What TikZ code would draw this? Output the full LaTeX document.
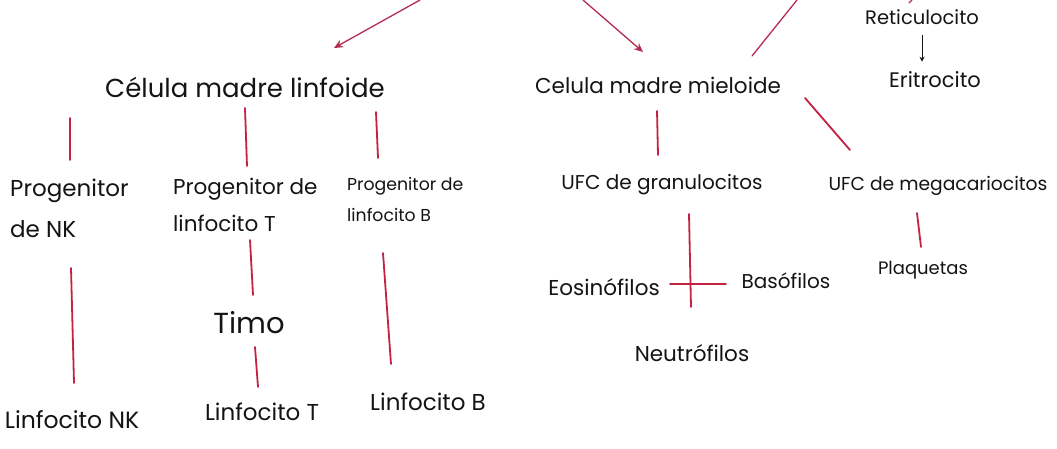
\documentclass[tikz,border=0pt]{standalone}
\usepackage{fontspec}
\setmainfont{Poppins}
\usetikzlibrary{arrows.meta}
\definecolor{ink}{RGB}{20,20,20}
\definecolor{redink}{RGB}{196,34,66}
\definecolor{arrowink}{RGB}{180,45,80}
\newcommand{\fsz}[1]{\fontsize{#1}{#1}\selectfont}
\tikzset{
  lbl/.style={text=ink, inner sep=0pt, font=\fsz{22}},
  twoline/.style={lbl, align=left, anchor=north west},
  link/.style={draw=redink, line width=1.8pt, line cap=round},
  thinlink/.style={draw=arrowink, line width=1.3pt, line cap=round},
  feed/.style={thinlink, -{Stealth[length=9pt, width=8pt]}},
  smallarrow/.style={draw=ink, line width=1pt, -{Stealth[length=5pt, width=5pt]}}
}
\begin{document}
\begin{tikzpicture}[x=1pt, y=-1pt]
  \useasboundingbox (0,0) rectangle (1057,449);
  \fill[white] (0,0) rectangle (1057,449);

  % --- stem cells ---
  \node[lbl, font=\fsz{26}] (linf) at (245,87) {Célula madre linfoide};
  \node[lbl, font=\fsz{21.5}] (miel) at (658,85) {Celula madre mieloide};

  % --- erythroid branch ---
  \node[lbl, font=\fsz{19.5}] (reti) at (922,17) {Reticulocito};
  \node[lbl, font=\fsz{21}] (eri) at (935,80) {Eritrocito};
  \draw[smallarrow, shorten <=10pt, shorten >=10pt] (reti.south) -- (reti.south |- eri.north);

  % --- incoming lines from the top edge ---
  \coordinate (srcL) at (420,0);
  \coordinate (tipL) at (334,48);
  \coordinate (srcR) at (583,0);
  \coordinate (tipR) at (643,52);
  \coordinate (outA) at (797,0);
  \coordinate (outB) at (752,56);
  \coordinate (topA) at (912,0);
  \coordinate (topB) at (909,3);
  \draw[feed] (srcL) -- (tipL);
  \draw[feed] (srcR) -- (tipR);
  \draw[thinlink] (outA) -- (outB);
  \draw[thinlink] (topA) -- (topB);

  % --- lymphoid progenitors ---
  \node[twoline, font=\fontsize{23}{41}\selectfont] (pnk) at (10,179) {Progenitor\\de NK};
  \node[twoline, font=\fontsize{21.5}{37}\selectfont] (pT) at (173,177.5) {Progenitor de\\linfocito T};
  \node[twoline, font=\fontsize{17.3}{31}\selectfont] (pB) at (347,177) {Progenitor de\\linfocito B};
  \node[lbl, font=\fsz{29}] (timo) at (249,323) {Timo};
  \node[lbl, font=\fsz{23.5}] (lnk) at (72,420) {Linfocito NK};
  \node[lbl, font=\fsz{23}] (lt) at (262,412) {Linfocito T};
  \node[lbl, font=\fsz{23}] (lb) at (428,402) {Linfocito B};

  % --- myeloid progenitors ---
  \node[lbl, font=\fsz{20}] (ufcg) at (662,185) {UFC de granulocitos};
  \node[lbl, font=\fsz{18.7}] (ufcm) at (938,186) {UFC de megacariocitos};
  \node[lbl, font=\fsz{21.5}] (eos) at (604,287) {Eosinófilos};
  \node[lbl, font=\fsz{20}] (bas) at (786,281) {Basófilos};
  \node[lbl, font=\fsz{21.5}] (neu) at (692,353) {Neutrófilos};
  \node[lbl, font=\fsz{18}] (plaq) at (923,270) {Plaquetas};

  % --- connector end points ---
  \coordinate (a1) at (70,118);   \coordinate (a2) at (70,160);
  \coordinate (b1) at (245,108);  \coordinate (b2) at (247,166);
  \coordinate (c1) at (376,112);  \coordinate (c2) at (378,158);
  \coordinate (d1) at (71,268);   \coordinate (d2) at (74,383);
  \coordinate (e1) at (250,240);  \coordinate (e2) at (253,295);
  \coordinate (f1) at (383,253);  \coordinate (f2) at (391,364);
  \coordinate (g1) at (255,347);  \coordinate (g2) at (258,387);
  \coordinate (h1) at (657,111);  \coordinate (h2) at (658,155);
  \coordinate (i1) at (805,98);   \coordinate (i2) at (850,150);
  \coordinate (j1) at (689,214);  \coordinate (j2) at (691,307);
  \coordinate (k1) at (670,284);  \coordinate (k2) at (726,284);
  \coordinate (m1) at (917,213);  \coordinate (m2) at (921,247);

  % --- connectors ---
  \draw[link] (a1) -- (a2);
  \draw[link] (b1) -- (b2);
  \draw[link] (c1) -- (c2);
  \draw[link] (d1) -- (d2);
  \draw[link] (e1) -- (e2);
  \draw[link] (f1) -- (f2);
  \draw[link] (g1) -- (g2);
  \draw[link] (h1) -- (h2);
  \draw[link] (i1) -- (i2);
  \draw[link] (j1) -- (j2);
  \draw[link] (k1) -- (k2);
  \draw[link] (m1) -- (m2);
\end{tikzpicture}
\end{document}
